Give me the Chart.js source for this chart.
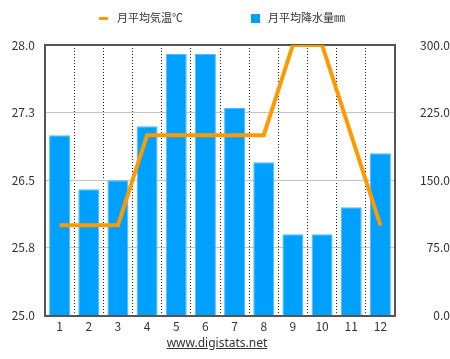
<!DOCTYPE html>
<html>
<head>
<meta charset="utf-8">
<script src="https://cdn.jsdelivr.net/npm/chart.js@4.4.1/dist/chart.umd.min.js"></script>
<style>
  html, body { margin: 0; padding: 0; background: #fff; }
  #wrap { position: relative; width: 450px; height: 359px; }
  canvas { position: absolute; left: 0; top: 0; }
  .lg { position: absolute; top: 9px; height: 16px; font: 11px "Noto Sans CJK JP", sans-serif; color: #333; line-height: 16px; white-space: nowrap; }
  .lg .ln { display: inline-block; width: 9px; height: 3px; background: #ff9900; vertical-align: middle; margin-right: 9px; position: relative; top: -1px; }
  .lg .sq { display: inline-block; width: 9px; height: 9px; background: #00a0ff; vertical-align: middle; margin-right: 8px; position: relative; top: -1px; }
  #link { position: absolute; top: 334px; left: 0; width: 434px; text-align: center; font: 12px "Noto Sans", sans-serif; color: #333; text-decoration: underline; }
</style>
</head>
<body>
<div id="wrap">
  <canvas id="c" width="450" height="359"></canvas>
  <div class="lg" style="left:99px;"><span class="ln"></span>月平均気温℃</div>
  <div class="lg" style="left:251px;"><span class="sq"></span>月平均降水量㎜</div>
  <div id="link">www.digistats.net</div>
</div>
<script>
const months = ['1','2','3','4','5','6','7','8','9','10','11','12'];
const tempLabel = '月平均気温℃';
const precLabel = '月平均降水量㎜';
const temperature = [26.0, 26.0, 26.0, 27.0, 27.0, 27.0, 27.0, 27.0, 28.0, 28.0, 27.0, 26.0];
const precipitation = [200, 140, 150, 210, 290, 290, 230, 170, 90, 90, 120, 180];
const tempTicks = ['25.0', '25.8', '26.5', '27.3', '28.0'];
const precTicks = ['0.0', '75.0', '150.0', '225.0', '300.0'];

const font = { family: '"Noto Sans CJK JP", "Noto Sans", sans-serif', size: 12 };

new Chart(document.getElementById('c'), {
  data: {
    labels: months,
    datasets: [
      {
        type: 'line',
        label: tempLabel,
        data: temperature,
        yAxisID: 'y',
        borderColor: '#ff9900',
        backgroundColor: '#ff9900',
        borderWidth: 4,
        pointRadius: 0,
        tension: 0,
        order: 0
      },
      {
        type: 'bar',
        label: precLabel,
        data: precipitation,
        yAxisID: 'y1',
        backgroundColor: '#00a0ff',
        borderColor: '#4dbdff',
        borderWidth: 1,
        barPercentage: 0.72,
        categoryPercentage: 1.0,
        order: 1
      }
    ]
  },
  options: {
    responsive: false,
    animation: false,
    layout: { padding: { top: 45, left: 0, right: 0, bottom: 0 } },
    plugins: { legend: { display: false }, tooltip: { enabled: false } },
    scales: {
      x: {
        offset: true,
        grid: {
          offset: true,
          color: '#222',
          lineWidth: 1,
          drawTicks: false
        },
        border: { display: true, color: '#555', width: 2, dash: [1, 2] },
        ticks: { font: font, color: '#333', padding: 4 },
        afterFit: (s) => { s.height = 43.5; }
      },
      y: {
        position: 'left',
        min: 25,
        max: 28,
        grid: {
          color: (ctx) => (ctx.tick && ctx.tick.value >= 28 ? '#555' : '#c4c4c4'),
          lineWidth: (ctx) => (ctx.tick && ctx.tick.value >= 28 ? 2 : 1),
          drawTicks: false
        },
        border: { display: true, color: '#555', width: 2 },
        ticks: {
          stepSize: 0.75,
          font: font,
          color: '#333',
          padding: 10,
          callback: (v, i) => tempTicks[i]
        },
        afterFit: (s) => { s.width = 45; }
      },
      y1: {
        position: 'right',
        min: 0,
        max: 300,
        grid: { drawOnChartArea: false, drawTicks: false },
        border: { display: true, color: '#555', width: 2 },
        ticks: {
          stepSize: 75,
          font: font,
          color: '#333',
          padding: 9,
          crossAlign: 'far',
          callback: (v, i) => precTicks[i]
        },
        afterFit: (s) => { s.width = 55; }
      }
    }
  }
});
</script>
</body>
</html>
